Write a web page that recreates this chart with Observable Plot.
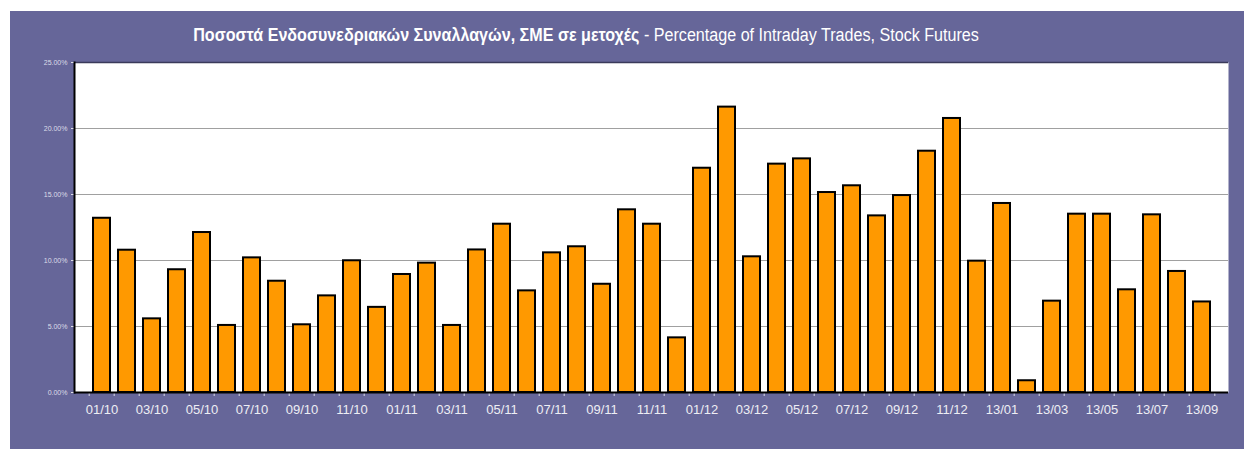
<!DOCTYPE html>
<html><head><meta charset="utf-8">
<script src="https://cdn.jsdelivr.net/npm/d3@7"></script>
<script src="https://cdn.jsdelivr.net/npm/@observablehq/plot@0.6"></script>
<style>
body{margin:0;background:#fff;}
#frame{position:absolute;left:10px;top:11px;width:1234px;height:438px;background:#666699;font-family:"Liberation Sans Narrow","Arial Narrow","Liberation Sans",sans-serif;}
#title{width:1152px;height:39px;line-height:48px;text-align:center;color:#fff;font-size:18px;white-space:nowrap;transform:scaleX(0.895);transform-origin:576px 0;}
#title b{font-weight:bold;}
#chart svg{display:block;}
</style></head>
<body>
<div id="frame">
  <div id="title"><b>Ποσοστά Ενδοσυνεδριακών Συναλλαγών, ΣΜΕ σε μετοχές</b> - Percentage of Intraday Trades, Stock Futures</div>
  <div id="chart"></div>
</div>
<script>
const categories = ["01/10","02/10","03/10","04/10","05/10","06/10","07/10","08/10","09/10","10/10","11/10","12/10",
  "01/11","02/11","03/11","04/11","05/11","06/11","07/11","08/11","09/11","10/11","11/11","12/11",
  "01/12","02/12","03/12","04/12","05/12","06/12","07/12","08/12","09/12","10/12","11/12","12/12",
  "13/01","13/02","13/03","13/04","13/05","13/06","13/07","13/08","13/09"];
const values = [13.2,10.78,5.58,9.3,12.12,5.08,10.2,8.43,5.13,7.32,9.98,6.45,
  8.94,9.8,5.08,10.8,12.75,7.7,10.58,11.04,8.2,13.84,12.75,4.14,
  16.99,21.62,10.28,17.3,17.7,15.15,15.66,13.38,14.92,18.28,20.76,9.95,
  14.32,0.89,6.92,13.51,13.51,7.78,13.46,9.17,6.86];
const xTickLabels = ["01/10","03/10","05/10","07/10","09/10","11/10","01/11","03/11","05/11","07/11","09/11","11/11",
  "01/12","03/12","05/12","07/12","09/12","11/12","13/01","13/03","13/05","13/07","13/09"];
const yTicks = [0,5,10,15,20,25];

const data = categories.map((c,i)=>({cat:c, value:values[i]}));
const W = 1234, H = 399, mL = 64, mR = 16, mT = 12, mB = 57;
const step = (W - mL - mR) / categories.length;
const font = '"Liberation Sans Narrow","Arial Narrow","Liberation Sans",sans-serif';

const chart = Plot.plot({
  width: W, height: H,
  marginTop: mT, marginLeft: mL, marginRight: mR, marginBottom: mB,
  style: {background: "transparent", fontFamily: font, overflow: "visible"},
  x: {domain: categories, paddingInner: 0.33, paddingOuter: 0.165, axis: null},
  y: {domain: [0, 25], axis: null},
  marks: [
    Plot.frame({fill: "#fff", stroke: null}),
    Plot.gridY(yTicks.filter(t => t > 0 && t < 25), {stroke: "#a0a0a0", strokeOpacity: 1, strokeWidth: 1}),
    Plot.ruleY([25], {stroke: "#3a3a5a", strokeWidth: 1.5}),
    Plot.barY(data, {x: "cat", y: "value", fill: "#FF9900", stroke: "#000", strokeWidth: 2}),
    Plot.axisY({ticks: yTicks, tickFormat: d => d.toFixed(2) + "%", tickSize: 3, tickPadding: 4, fontSize: 7, color: "#dddde8", label: null}),
    Plot.axisX({ticks: categories, tickFormat: () => "", tickSize: 4, dx: -step / 2, color: "#dddde8", label: null}),
    Plot.axisX({ticks: [categories[categories.length - 1]], tickFormat: () => "", tickSize: 4, dx: step / 2, color: "#dddde8", label: null}),
    Plot.axisX({ticks: xTickLabels, tickSize: 0, tickPadding: 12, fontSize: 13, color: "#eeeef4", label: null}),
    Plot.ruleY([0], {stroke: "#000", strokeWidth: 2}),
    Plot.frame({anchor: "left", stroke: "#000", strokeWidth: 2})
  ]
});
document.getElementById("chart").appendChild(chart);
</script>
</body></html>
